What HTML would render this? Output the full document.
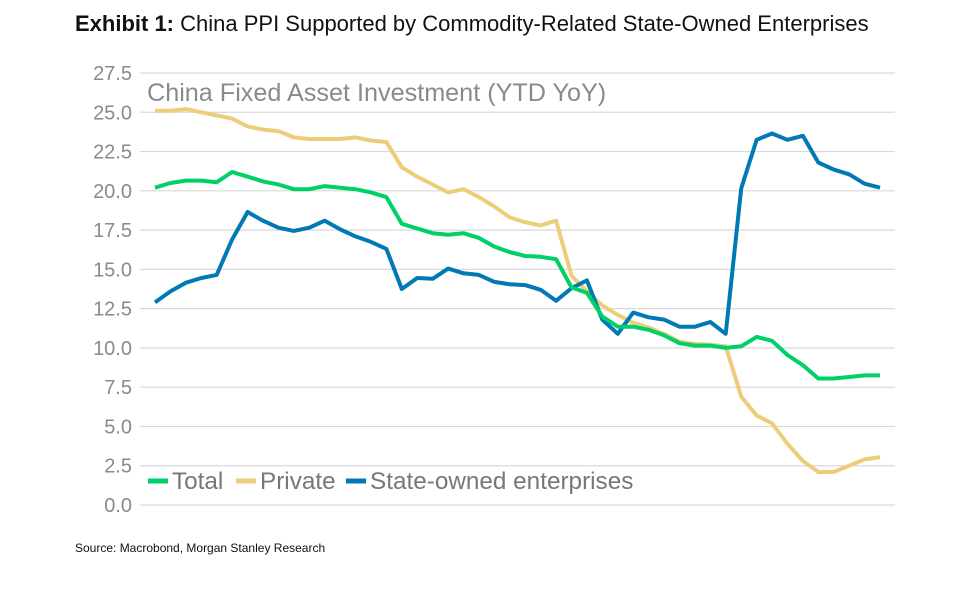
<!DOCTYPE html>
<html><head><meta charset="utf-8"><style>
body{margin:0;background:#fff;width:955px;height:587px;overflow:hidden;font-family:"Liberation Sans",sans-serif}
</style></head><body>
<svg width="955" height="587" id="svg">
<text x="75" y="31" font-size="22" fill="#111"><tspan font-weight="bold">Exhibit 1:</tspan>  China PPI Supported by Commodity-Related State-Owned Enterprises</text>
<text x="147" y="101" font-size="25.2" fill="#8a8a8a">China Fixed Asset Investment (YTD YoY)</text>
<text x="75" y="552" font-size="12" fill="#111">Source: Macrobond, Morgan Stanley Research</text>
<g id="grid"></g><g id="lines"></g>
<g>
<line x1="148" y1="481" x2="168" y2="481" stroke="#00d068" stroke-width="5"/>
<text x="172" y="489" font-size="24.3" fill="#777">Total</text>
<line x1="236" y1="481" x2="256" y2="481" stroke="#edcd7a" stroke-width="5"/>
<text x="260" y="489" font-size="24.3" fill="#777">Private</text>
<line x1="346" y1="481" x2="366" y2="481" stroke="#0079b4" stroke-width="5"/>
<text x="370" y="489" font-size="24.3" fill="#777">State-owned enterprises</text>
</g>
</svg>
<script>
const yTicks=[0,2.5,5,7.5,10,12.5,15,17.5,20,22.5,25,27.5];
const tickLabels=["0.0","2.5","5.0","7.5","10.0","12.5","15.0","17.5","20.0","22.5","25.0","27.5"];
const total=[20.2,20.5,20.65,20.65,20.55,21.2,20.9,20.6,20.4,20.1,20.1,20.3,20.2,20.1,19.9,19.6,17.9,17.6,17.3,17.2,17.3,17.0,16.45,16.1,15.85,15.8,15.65,13.85,13.5,12.0,11.35,11.35,11.15,10.8,10.3,10.15,10.15,10.0,10.1,10.7,10.45,9.55,8.9,8.05,8.05,8.15,8.25,8.25];
const priv=[25.1,25.1,25.2,25.0,24.8,24.6,24.1,23.9,23.8,23.4,23.3,23.3,23.3,23.4,23.2,23.1,21.5,20.9,20.4,19.9,20.1,19.6,19.0,18.3,18.0,17.8,18.1,14.6,13.6,12.7,12.1,11.6,11.3,10.9,10.4,10.25,10.2,10.1,6.9,5.7,5.2,3.9,2.8,2.1,2.1,2.5,2.9,3.05];
const soe=[12.9,13.6,14.15,14.45,14.65,16.9,18.65,18.1,17.65,17.45,17.65,18.1,17.55,17.1,16.75,16.3,13.75,14.45,14.4,15.05,14.75,14.65,14.2,14.05,14.0,13.7,13.0,13.8,14.3,11.8,10.9,12.25,11.95,11.8,11.35,11.35,11.65,10.9,20.15,23.25,23.65,23.25,23.5,21.8,21.35,21.05,20.45,20.2];
const NS="http://www.w3.org/2000/svg";
function yS(v){return 505-v*432/27.5;}
function xS(i){return 155+i*725/(total.length-1);}
const grid=document.getElementById('grid');
yTicks.forEach((t,k)=>{
  const l=document.createElementNS(NS,'line');
  l.setAttribute('x1',140);l.setAttribute('x2',895);
  l.setAttribute('y1',yS(t));l.setAttribute('y2',yS(t));
  l.setAttribute('stroke','#d9d9d9');l.setAttribute('stroke-width','1.2');
  
  
  grid.appendChild(l);
  const tx=document.createElementNS(NS,'text');
  tx.setAttribute('x',132);tx.setAttribute('y',yS(t)+7);
  tx.setAttribute('text-anchor','end');tx.setAttribute('font-size','20');tx.setAttribute('fill','#8a8a8a');
  tx.textContent=tickLabels[k];
  
  
  grid.appendChild(tx);
});
const lines=document.getElementById('lines');
[[priv,'#edcd7a','private-line'],[soe,'#0079b4','soe-line'],[total,'#00d068','total-line']].forEach(([d,c,n])=>{
  const p=document.createElementNS(NS,'polyline');
  p.setAttribute('points',d.map((v,i)=>xS(i).toFixed(1)+','+yS(v).toFixed(1)).join(' '));
  p.setAttribute('fill','none');p.setAttribute('stroke',c);p.setAttribute('stroke-width','4');
  p.setAttribute('stroke-linejoin','round');
  
  
  lines.appendChild(p);
});
</script>
</body></html>
